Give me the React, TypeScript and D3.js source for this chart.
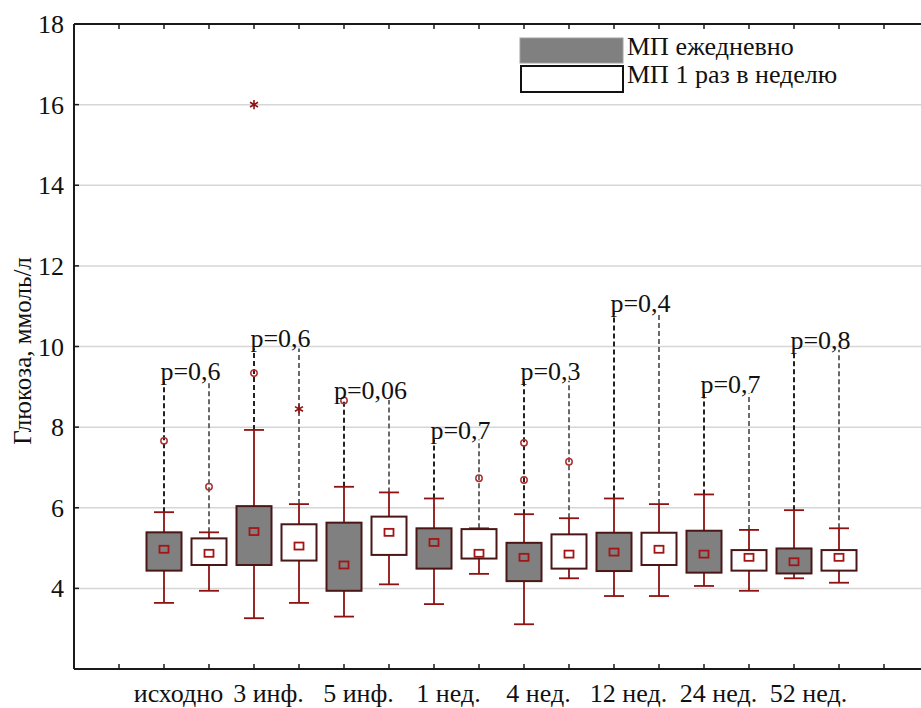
import React from 'react';
import * as d3 from 'd3';

// categories and series
const categories = ['исходно', '3 инф.', '5 инф.', '1 нед.', '4 нед.', '12 нед.', '24 нед.', '52 нед.'];
const seriesNames = ['МП ежедневно', 'МП 1 раз в неделю'];

// daily (filled boxes)
const dailyMin = [3.64, 3.26, 3.30, 3.61, 3.11, 3.81, 4.06, 4.25];
const dailyQ1 = [4.44, 4.58, 3.94, 4.49, 4.18, 4.43, 4.39, 4.37];
const dailyMedian = [4.97, 5.41, 4.58, 5.14, 4.77, 4.90, 4.85, 4.66];
const dailyQ3 = [5.39, 6.04, 5.63, 5.49, 5.13, 5.38, 5.43, 4.99];
const dailyMax = [5.89, 7.93, 6.52, 6.23, 5.84, 6.23, 6.33, 5.94];
const dailyOutliers = [[7.66], [9.34], [8.66], [], [7.61, 6.69], [], [], []];
const dailyExtremes = [[], [16], [], [], [], [], [], []];

// once a week (open boxes)
const weeklyMin = [3.94, 3.64, 4.10, 4.36, 4.25, 3.81, 3.94, 4.14];
const weeklyQ1 = [4.58, 4.69, 4.83, 4.74, 4.49, 4.58, 4.44, 4.44];
const weeklyMedian = [4.87, 5.05, 5.39, 4.87, 4.85, 4.97, 4.77, 4.77];
const weeklyQ3 = [5.24, 5.59, 5.78, 5.47, 5.34, 5.38, 4.95, 4.95];
const weeklyMax = [5.39, 6.09, 6.38, 5.49, 5.74, 6.09, 5.45, 5.49];
const weeklyOutliers = [[6.52], [], [], [6.73], [7.14], [], [], []];
const weeklyExtremes = [[], [8.45], [], [], [], [], [], []];

// p-values and the level where each label sits
const pLabels = ['p=0,6', 'p=0,6', 'p=0,06', 'p=0,7', 'p=0,3', 'p=0,4', 'p=0,7', 'p=0,8'];
const pLevels = [9.40, 10.20, 8.92, 7.94, 9.40, 11.09, 9.08, 10.17];

const yTicks = [4, 6, 8, 10, 12, 14, 16, 18];

const W = 921;
const H = 708;
const FONT = 'Liberation Serif, Tinos, DejaVu Serif, serif';

const App = () => {
  const left = 74, top = 24, bottom = 669, right = 929;
  const x = d3.scaleLinear().domain([0, 19]).range([left, right]);
  const y = d3.scaleLinear().domain([2, 18]).range([bottom, top]);
  const xTicks = d3.range(1, 19);
  const boxW = 35;
  const capW = 20;

  const series = [
    { min: dailyMin, q1: dailyQ1, med: dailyMedian, q3: dailyQ3, max: dailyMax, out: dailyOutliers, ext: dailyExtremes, fill: '#808080', dash: '#222' },
    { min: weeklyMin, q1: weeklyQ1, med: weeklyMedian, q3: weeklyQ3, max: weeklyMax, out: weeklyOutliers, ext: weeklyExtremes, fill: '#ffffff', dash: '#6a6a6a' },
  ];

  const asterisk = d3.symbol().type(d3.symbolAsterisk).size(60)();
  const txt = { fontFamily: FONT, fontSize: 26, fill: '#111' };

  return (
    <svg width={W} height={H} style={{ position: 'absolute', left: 0, top: 0, background: '#fff' }}>
      {/* gridlines */}
      {yTicks.filter(t => t < 18).map(t => (
        <line key={'g' + t} x1={left} x2={W} y1={y(t)} y2={y(t)} stroke="#d6d6d6" strokeWidth={1.5} />
      ))}

      {/* dashed lines to p labels */}
      {categories.map((c, i) => series.map((s, si) => (
        <line key={'d' + i + si} x1={x(2 + 2 * i + si)} x2={x(2 + 2 * i + si)}
          y1={y(s.max[i])} y2={y(pLevels[i]) + 10}
          stroke={s.dash} strokeWidth={2} strokeDasharray="5,3" />
      )))}

      {/* boxes */}
      {categories.map((c, i) => series.map((s, si) => {
        const cx = x(2 + 2 * i + si);
        return (
          <g key={'b' + i + si}>
            <line x1={cx} x2={cx} y1={y(s.max[i])} y2={y(s.min[i])} stroke="#8e1212" strokeWidth={1.8} />
            <line x1={cx - capW / 2} x2={cx + capW / 2} y1={y(s.max[i])} y2={y(s.max[i])} stroke="#8e1212" strokeWidth={1.8} />
            <line x1={cx - capW / 2} x2={cx + capW / 2} y1={y(s.min[i])} y2={y(s.min[i])} stroke="#8e1212" strokeWidth={1.8} />
            <rect x={cx - boxW / 2} y={y(s.q3[i])} width={boxW} height={y(s.q1[i]) - y(s.q3[i])}
              fill={s.fill} stroke="#4a1616" strokeWidth={2} />
            <rect x={cx - 4.5} y={y(s.med[i]) - 3.5} width={9} height={7} fill="none" stroke="#a31515" strokeWidth={1.8} />
            {s.out[i].map((v, k) => (
              <circle key={'o' + k} cx={cx} cy={y(v)} r={3.2} fill="none" stroke="#b03030" strokeWidth={1.5} />
            ))}
            {s.ext[i].map((v, k) => (
              <path key={'e' + k} d={asterisk} transform={`translate(${cx},${y(v)})`} fill="none" stroke="#8e1212" strokeWidth={1.6} />
            ))}
          </g>
        );
      }))}

      {/* p labels */}
      {pLabels.map((p, i) => (
        <text key={'p' + i} x={x(2 + 2 * i + 0.5) + 4} y={y(pLevels[i]) + 9} textAnchor="middle" style={txt}>{p}</text>
      ))}

      {/* frame */}
      <line x1={left} x2={W} y1={top} y2={top} stroke="#1a1a1a" strokeWidth={2} />
      <line x1={left} x2={W} y1={bottom} y2={bottom} stroke="#1a1a1a" strokeWidth={2} />
      <line x1={left} x2={left} y1={top} y2={bottom} stroke="#1a1a1a" strokeWidth={2} />

      {/* x ticks */}
      {xTicks.map(t => (
        <g key={'xt' + t}>
          <line x1={x(t)} x2={x(t)} y1={top} y2={top + 5} stroke="#1a1a1a" strokeWidth={1.5} />
          <line x1={x(t)} x2={x(t)} y1={bottom} y2={bottom - 5} stroke="#1a1a1a" strokeWidth={1.5} />
        </g>
      ))}

      {/* y ticks */}
      {yTicks.map(t => (
        <g key={'yt' + t}>
          <line x1={left} x2={left + 5} y1={y(t)} y2={y(t)} stroke="#1a1a1a" strokeWidth={1.5} />
          <text x={64} y={y(t) + 9} textAnchor="end" style={txt}>{t}</text>
        </g>
      ))}

      {/* category labels */}
      {categories.map((c, i) => (
        <text key={'c' + i} x={x(2 + 2 * i + 0.5) - 8} y={702} textAnchor="middle" style={txt}>{c}</text>
      ))}

      {/* y axis title */}
      <text transform="translate(31,351) rotate(-90)" textAnchor="middle" style={{ ...txt, fontSize: 25 }}>Глюкоза, ммоль/л</text>

      {/* legend */}
      <rect x={520} y={38} width={103} height={25} fill="#808080" stroke="#a0a0a0" strokeWidth={1} />
      <rect x={521} y={66} width={102} height={26} fill="#fff" stroke="#111" strokeWidth={2} />
      <text x={627} y={55} style={txt}>{seriesNames[0]}</text>
      <text x={627} y={83} style={txt}>{seriesNames[1]}</text>
    </svg>
  );
};

export default App;
